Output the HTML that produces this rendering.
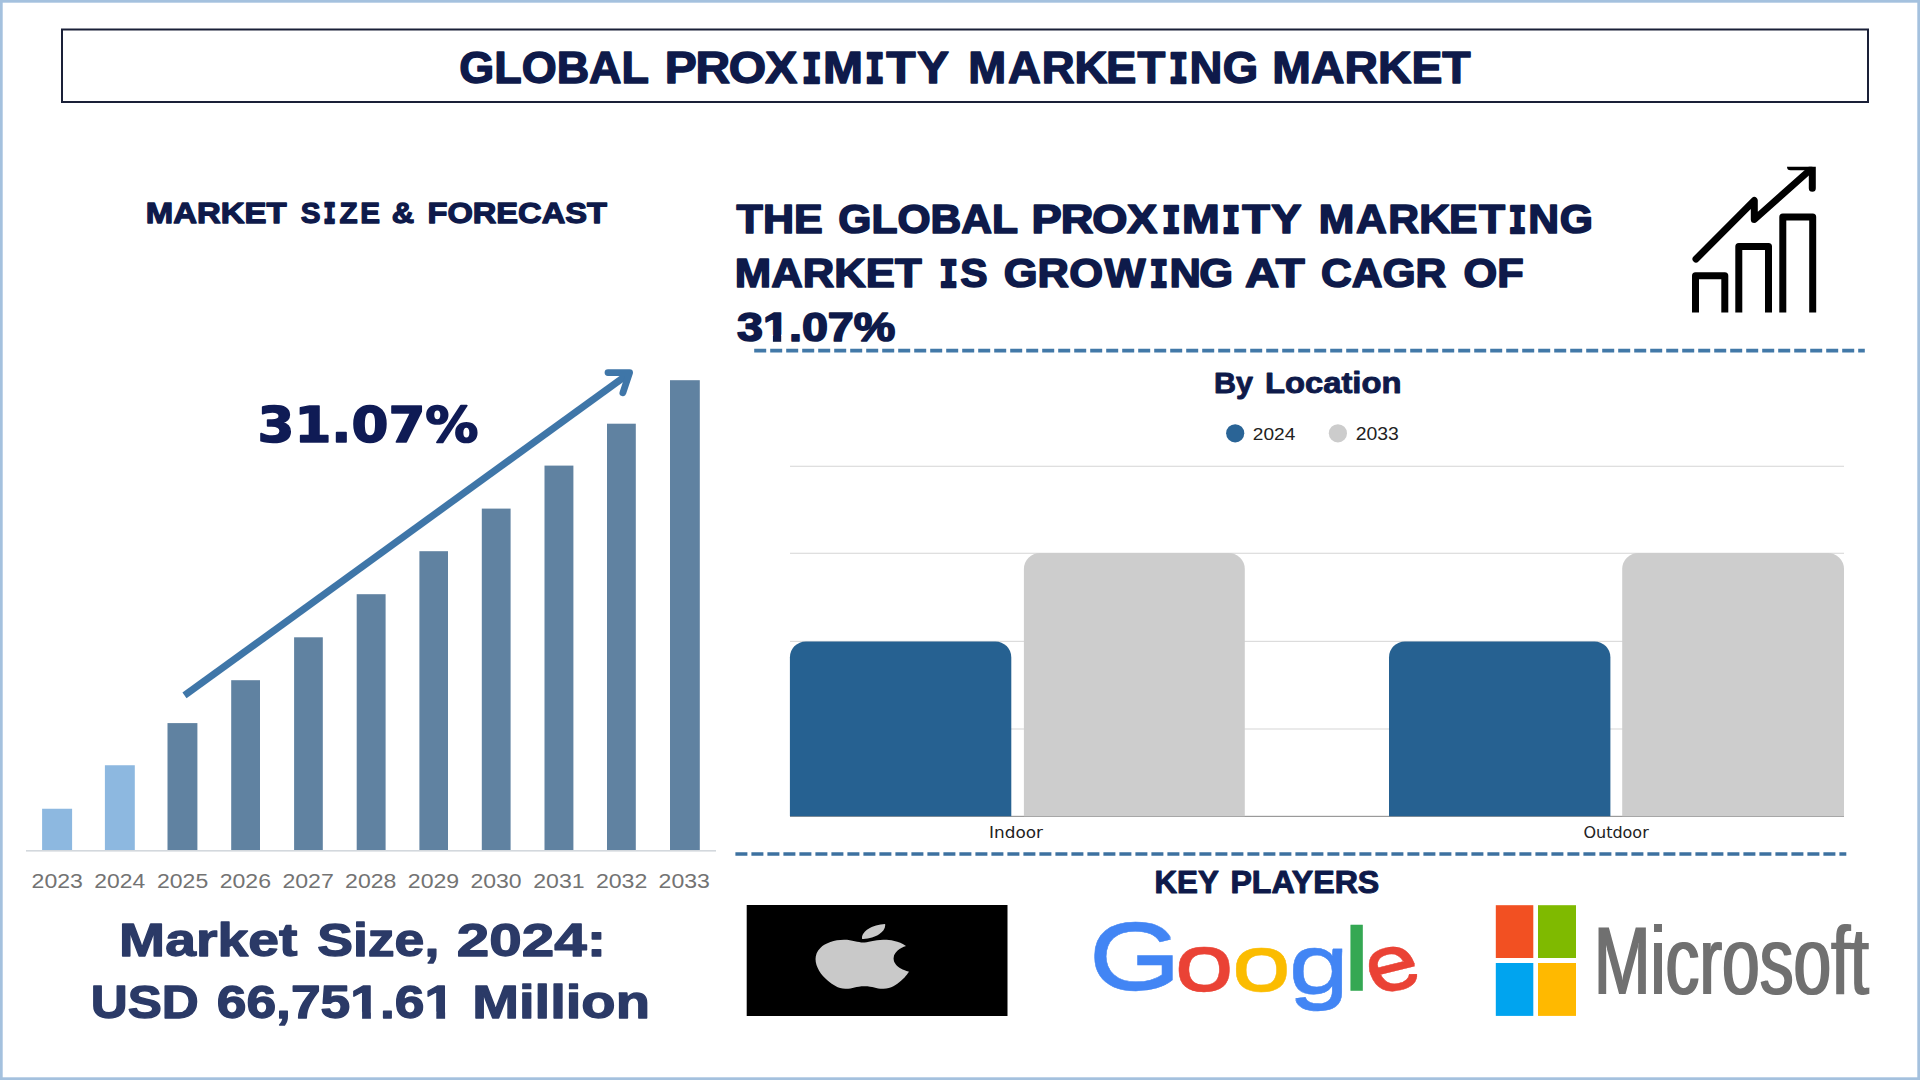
<!DOCTYPE html>
<html lang="en"><head><meta charset="utf-8"><title>Global Proximity Marketing Market</title>
<style>html,body{margin:0;padding:0;background:#fff;overflow:hidden}svg{display:block}text{white-space:pre}</style></head>
<body><svg width="1920" height="1080" viewBox="0 0 1920 1080">
<desc>GLOBAL PROXIMITY MARKETING MARKET. MARKET SIZE &amp; FORECAST. 31.07%. Market Size, 2024: USD 66,751.61 Million. THE GLOBAL PROXIMITY MARKETING MARKET IS GROWING AT CAGR OF 31.07%. By Location: 2024, 2033; Indoor, Outdoor. KEY PLAYERS: Google, Microsoft.</desc>
<defs><clipPath id="icl"><rect x="1600" y="166.85" width="300" height="200"/></clipPath><filter id="dx" x="-5%" y="-5%" width="110%" height="110%"><feMorphology operator="dilate" radius="1.3 0"/><feGaussianBlur stdDeviation="0.7"/></filter><filter id="dy" x="-5%" y="-10%" width="110%" height="120%"><feMorphology operator="dilate" radius="0 1"/><feGaussianBlur stdDeviation="0.6"/></filter><filter id="fb" x="-5%" y="-20%" width="110%" height="140%"><feGaussianBlur stdDeviation="0.7"/><feComponentTransfer><feFuncA type="linear" slope="3" intercept="-0.1"/></feComponentTransfer></filter><filter id="bl" x="-10%" y="-10%" width="120%" height="120%"><feGaussianBlur stdDeviation="0.7"/></filter></defs>
<rect x="0" y="0" width="1920" height="1080" fill="#ffffff"/>
<rect x="1.35" y="1.35" width="1917.3" height="1077.3" fill="none" stroke="#a4c1de" stroke-width="2.7"/>
<rect x="62" y="29.5" width="1806" height="72.5" fill="none" stroke="#1a2038" stroke-width="2"/>
<g font-family='"Liberation Sans", sans-serif' font-weight="bold" fill="#0e1a4a" stroke="#0e1a4a" stroke-width="1.4" stroke-linejoin="round"><text transform="translate(459.30,83.30) scale(1.0230,1)" font-size="43.93">GLOBAL </text><text transform="translate(0,83.30) scale(1.0934,1)" font-size="43.93" x="608.04 636.07 666.39 699.84 733.36 752.64 791.21 810.65 838.63 869.75">PROX<tspan font-family='"DejaVu Sans Mono", monospace' font-size="40.68" stroke-width="2.40" textLength="18.23" lengthAdjust="spacingAndGlyphs">I</tspan>M<tspan font-family='"DejaVu Sans Mono", monospace' font-size="40.68" stroke-width="2.40" textLength="17.85" lengthAdjust="spacingAndGlyphs">I</tspan>TY </text><text transform="translate(0,83.30) scale(1.0363,1)" font-size="43.93" x="934.45 972.59 1005.32 1036.84 1067.32 1097.73 1127.84 1147.83 1179.87 1213.58">MARKET<tspan font-family='"DejaVu Sans Mono", monospace' font-size="40.68" stroke-width="2.40" textLength="18.70" lengthAdjust="spacingAndGlyphs">I</tspan>NG </text><text transform="translate(1272.37,83.30) scale(1.0553,1)" font-size="43.93">MARKET</text></g>
<g font-family='"Liberation Sans", sans-serif' font-weight="bold" fill="#0e1a4a" stroke="#0e1a4a" stroke-width="1.3" stroke-linejoin="round"><text transform="translate(145.83,223.45) scale(1.1097,1)" font-size="29.67">MARKET </text><text transform="translate(0,223.45) scale(0.9983,1)" font-size="29.67" x="301.16 324.12 340.09 360.96 381.73">S<tspan font-family='"DejaVu Sans Mono", monospace' font-size="27.26" stroke-width="2.30" textLength="12.20" lengthAdjust="spacingAndGlyphs">I</tspan>ZE </text><text transform="translate(391.83,223.45) scale(1.0462,1)" font-size="29.67">&amp; </text><text transform="translate(427.45,223.45) scale(1.1001,1)" font-size="29.67">FORECAST</text></g>
<rect x="42.1" y="808.75" width="30.0" height="41.55" fill="#8db8e0"/>
<rect x="104.9" y="765.25" width="29.9" height="85.05" fill="#8db8e0"/>
<rect x="167.5" y="723.1" width="29.9" height="127.20" fill="#6082a1"/>
<rect x="231.2" y="680.2" width="28.8" height="170.10" fill="#6082a1"/>
<rect x="294.1" y="637.3" width="28.7" height="213.00" fill="#6082a1"/>
<rect x="356.7" y="594.2" width="28.9" height="256.10" fill="#6082a1"/>
<rect x="419.4" y="551.2" width="28.6" height="299.10" fill="#6082a1"/>
<rect x="481.8" y="508.6" width="28.8" height="341.70" fill="#6082a1"/>
<rect x="544.5" y="465.6" width="28.9" height="384.70" fill="#6082a1"/>
<rect x="607" y="423.7" width="28.8" height="426.60" fill="#6082a1"/>
<rect x="670" y="380.2" width="29.8" height="470.10" fill="#6082a1"/>
<rect x="26" y="850" width="690" height="1.6" fill="#d3d8dd"/>
<text transform="translate(31.60,888.40) scale(1.1166,1)" font-family='"Liberation Sans", sans-serif' font-weight="normal" font-size="20.65" fill="#737373" >2023</text>
<text transform="translate(94.31,888.40) scale(1.1088,1)" font-family='"Liberation Sans", sans-serif' font-weight="normal" font-size="20.65" fill="#737373" >2024</text>
<text transform="translate(157.00,888.40) scale(1.1153,1)" font-family='"Liberation Sans", sans-serif' font-weight="normal" font-size="20.65" fill="#737373" >2025</text>
<text transform="translate(219.70,888.40) scale(1.1166,1)" font-family='"Liberation Sans", sans-serif' font-weight="normal" font-size="20.65" fill="#737373" >2026</text>
<text transform="translate(282.39,888.40) scale(1.1205,1)" font-family='"Liberation Sans", sans-serif' font-weight="normal" font-size="20.65" fill="#737373" >2027</text>
<text transform="translate(345.10,888.40) scale(1.1166,1)" font-family='"Liberation Sans", sans-serif' font-weight="normal" font-size="20.65" fill="#737373" >2028</text>
<text transform="translate(407.80,888.40) scale(1.1179,1)" font-family='"Liberation Sans", sans-serif' font-weight="normal" font-size="20.65" fill="#737373" >2029</text>
<text transform="translate(470.50,888.40) scale(1.1139,1)" font-family='"Liberation Sans", sans-serif' font-weight="normal" font-size="20.65" fill="#737373" >2030</text>
<text transform="translate(533.19,888.40) scale(1.1192,1)" font-family='"Liberation Sans", sans-serif' font-weight="normal" font-size="20.65" fill="#737373" >2031</text>
<text transform="translate(595.89,888.40) scale(1.1205,1)" font-family='"Liberation Sans", sans-serif' font-weight="normal" font-size="20.65" fill="#737373" >2032</text>
<text transform="translate(658.60,888.40) scale(1.1166,1)" font-family='"Liberation Sans", sans-serif' font-weight="normal" font-size="20.65" fill="#737373" >2033</text>
<g stroke="#3f76a8" fill="none"><line x1="184.5" y1="695.4" x2="628.5" y2="373.8" stroke-width="7"/><polyline points="608,372.6 629.6,372.6 622.9,392.8" stroke-width="6.8" stroke-linecap="round" stroke-linejoin="round"/></g>
<g font-family='"DejaVu Sans", sans-serif' font-weight="bold" fill="#0f1b55" stroke="#0f1b55" stroke-width="1.6" stroke-linejoin="round"><text transform="translate(257.52,442.20) scale(1.0765,1)" font-size="49.29">31.07%</text></g>
<g font-family='"Liberation Sans", sans-serif' font-weight="bold" fill="#2b3a67" stroke="#2b3a67" stroke-width="1.3" stroke-linejoin="round"><text transform="translate(119.12,956.05) scale(1.1729,1)" font-size="47.13">Market </text><text transform="translate(317.14,956.05) scale(1.1374,1)" font-size="47.13">Size, </text><text transform="translate(456.70,956.05) scale(1.2399,1)" font-size="47.13">2024:</text></g>
<g font-family='"Liberation Sans", sans-serif' font-weight="bold" fill="#2b3a67" stroke="#2b3a67" stroke-width="1.3" stroke-linejoin="round"><text transform="translate(90.68,1018.45) scale(1.0907,1)" font-size="46.98">USD </text><text transform="translate(216.75,1018.45) scale(1.1365,1)" font-size="46.98">66,751.61 </text><text transform="translate(472.16,1018.45) scale(1.1955,1)" font-size="46.98">Million</text></g>
<g fill="#ffffff"><g transform="translate(216.75,1018.45) scale(1.1365,1)"><rect x="118.88" y="-6.74" width="9.01" height="9.19"/><rect x="135.63" y="-6.74" width="8.61" height="9.19"/></g><g transform="translate(216.75,1018.45) scale(1.1365,1)"><rect x="184.19" y="-6.74" width="9.01" height="9.19"/><rect x="200.94" y="-6.74" width="8.61" height="9.19"/></g></g>
<g font-family='"Liberation Sans", sans-serif' font-weight="bold" fill="#0e1a4a" stroke="#0e1a4a" stroke-width="1.6" stroke-linejoin="round"><text transform="translate(736.62,232.95) scale(1.0698,1)" font-size="40.22">THE </text><text transform="translate(838.35,232.95) scale(1.0584,1)" font-size="40.22">GLOBAL </text><text transform="translate(0,232.95) scale(1.1259,1)" font-size="40.22" x="916.17 942.08 970.09 1000.98 1032.02 1049.79 1085.47 1103.35 1129.21 1157.93">PROX<tspan font-family='"DejaVu Sans Mono", monospace' font-size="37.19" stroke-width="2.60" textLength="16.45" lengthAdjust="spacingAndGlyphs">I</tspan>M<tspan font-family='"DejaVu Sans Mono", monospace' font-size="37.19" stroke-width="2.60" textLength="16.10" lengthAdjust="spacingAndGlyphs">I</tspan>TY </text><text transform="translate(0,232.95) scale(1.0615,1)" font-size="40.22" x="1242.26 1277.51 1307.81 1336.97 1365.15 1393.27 1421.21 1439.64 1469.30">MARKET<tspan font-family='"DejaVu Sans Mono", monospace' font-size="37.19" stroke-width="2.60" textLength="16.87" lengthAdjust="spacingAndGlyphs">I</tspan>NG</text></g>
<g font-family='"Liberation Sans", sans-serif' font-weight="bold" fill="#0e1a4a" stroke="#0e1a4a" stroke-width="1.6" stroke-linejoin="round"><text transform="translate(734.85,286.70) scale(1.0760,1)" font-size="40.58">MARKET </text><text transform="translate(0,286.70) scale(1.0104,1)" font-size="40.58" x="929.56 950.38 978.61"><tspan font-family='"DejaVu Sans Mono", monospace' font-size="37.53" stroke-width="2.60" textLength="18.49" lengthAdjust="spacingAndGlyphs">I</tspan>S </text><text transform="translate(0,286.70) scale(1.0721,1)" font-size="40.58" x="936.24 967.65 997.44 1030.32 1072.29 1090.94 1118.54 1147.61">GROW<tspan font-family='"DejaVu Sans Mono", monospace' font-size="37.53" stroke-width="2.60" textLength="17.43" lengthAdjust="spacingAndGlyphs">I</tspan>NG </text><text transform="translate(1245.12,286.70) scale(1.1671,1)" font-size="40.58">AT </text><text transform="translate(1321.10,286.70) scale(1.0485,1)" font-size="40.58">CAGR </text><text transform="translate(1463.57,286.70) scale(1.0683,1)" font-size="40.58">OF</text></g>
<g font-family='"Liberation Sans", sans-serif' font-weight="bold" fill="#0e1a4a" stroke="#0e1a4a" stroke-width="1.6" stroke-linejoin="round"><text transform="translate(736.95,340.80) scale(1.1726,1)" font-size="39.85">31.07%</text></g>
<g fill="#ffffff"><g transform="translate(736.95,340.80) scale(1.1726,1)"><rect x="22.88" y="-6.17" width="7.79" height="8.77"/><rect x="37.74" y="-6.17" width="7.49" height="8.77"/></g></g>
<g stroke="#000" stroke-width="7" fill="none" stroke-linejoin="round" clip-path="url(#icl)">
<polyline points="1695.5,312.5 1695.5,275.8 1724.8,275.8 1724.8,312.5"/>
<polyline points="1738.8,312.5 1738.8,246.4 1768.5,246.4 1768.5,312.5"/>
<polyline points="1782.8,312.5 1782.8,217 1812.7,217 1812.7,312.5"/>
<polyline points="1696,259 1754.3,200.5 1754.3,219.5 1810.5,169.5" stroke-linecap="round"/>
<polyline points="1790.5,166.8 1812.3,166.8 1812.3,188.2" stroke-linecap="round" stroke-linejoin="miter"/>
</g>
<line x1="754.2" y1="350.6" x2="1864.8" y2="350.6" stroke="#4279a8" stroke-width="3.7" stroke-dasharray="12 4"/>
<line x1="735.4" y1="854" x2="1846.3" y2="854" stroke="#3d71a0" stroke-width="3.7" stroke-dasharray="12 4"/>
<g font-family='"Liberation Sans", sans-serif' font-weight="bold" fill="#0e1a4a" stroke="#0e1a4a" stroke-width="0.9" stroke-linejoin="round"><text transform="translate(1213.89,393.15) scale(1.0417,1)" font-size="29.24">By </text><text transform="translate(1264.94,393.15) scale(1.1216,1)" font-size="29.24">Location</text></g>
<circle cx="1235.2" cy="433.3" r="9.1" fill="#2a6496"/><circle cx="1337.9" cy="433.3" r="9.1" fill="#cccccc"/>
<text transform="translate(1252.84,440.00) scale(1.0973,1)" font-family='"Liberation Sans", sans-serif' font-weight="normal" font-size="17.42" fill="#222" >2024</text>
<text transform="translate(1355.73,440.00) scale(1.1131,1)" font-family='"Liberation Sans", sans-serif' font-weight="normal" font-size="17.42" fill="#222" >2033</text>
<rect x="790" y="465.7" width="1054" height="1.2" fill="#dcdcdc"/>
<rect x="790" y="552.6999999999999" width="1054" height="1.2" fill="#dcdcdc"/>
<rect x="790" y="640.8" width="1054" height="1.2" fill="#dcdcdc"/>
<rect x="790" y="728.4" width="1054" height="1.2" fill="#dcdcdc"/>
<rect x="790" y="815.8" width="1054" height="1.2" fill="#9a9a9a"/>
<path d="M789.9,816.3 V657.4 A16,16 0 0 1 805.9,641.4 H995.3 A16,16 0 0 1 1011.3,657.4 V816.3 Z" fill="#266191"/>
<path d="M1023.9,816.3 V569.1 A16,16 0 0 1 1039.9,553.1 H1228.8 A16,16 0 0 1 1244.8,569.1 V816.3 Z" fill="#cdcdcd"/>
<path d="M1389,816.3 V657.4 A16,16 0 0 1 1405,641.4 H1594.4 A16,16 0 0 1 1610.4,657.4 V816.3 Z" fill="#266191"/>
<path d="M1622.2,816.3 V569.1 A16,16 0 0 1 1638.2,553.1 H1828 A16,16 0 0 1 1844,569.1 V816.3 Z" fill="#cdcdcd"/>
<text transform="translate(989.05,838.00) scale(1.0449,1)" font-family='"DejaVu Sans", sans-serif' font-weight="normal" font-size="16.16" fill="#222" >Indoor</text>
<text transform="translate(1583.42,838.00) scale(1.0071,1)" font-family='"DejaVu Sans", sans-serif' font-weight="normal" font-size="15.89" fill="#222" >Outdoor</text>
<g font-family='"Liberation Sans", sans-serif' font-weight="bold" fill="#0e1a4a" stroke="#0e1a4a" stroke-width="1.0" stroke-linejoin="round"><text transform="translate(1154.39,893.35) scale(1.0282,1)" font-size="30.47">KEY </text><text transform="translate(1230.43,893.35) scale(1.0552,1)" font-size="30.47">PLAYERS</text></g>
<rect x="746.7" y="905" width="260.8" height="111" fill="#000"/>
<g filter="url(#bl)"><g transform="translate(804.9,924) scale(4.78,2.7)" fill="#c9c9c9"><path d="M12.152 6.896c-.948 0-2.415-1.078-3.96-1.04-2.04.027-3.91 1.183-4.961 3.014-2.117 3.675-.546 9.103 1.519 12.09 1.013 1.454 2.208 3.09 3.792 3.039 1.52-.065 2.09-.987 3.935-.987 1.831 0 2.35.987 3.96.948 1.637-.026 2.676-1.48 3.676-2.948 1.156-1.688 1.636-3.325 1.662-3.415-.039-.013-3.182-1.221-3.22-4.857-.026-3.04 2.48-4.494 2.597-4.559-1.429-2.09-3.623-2.324-4.39-2.376-2-.156-3.675 1.09-4.61 1.09zM15.53 3.83c.843-1.012 1.4-2.427 1.245-3.83-1.207.052-2.662.805-3.532 1.818-.78.896-1.454 2.338-1.273 3.714 1.338.104 2.715-.688 3.559-1.701"/></g></g>
<g font-family='"Liberation Sans", sans-serif' font-size="100" filter="url(#dy)"><text transform="translate(1088.71,989.35) scale(1.1877,0.9456)" fill="#4285f4" stroke="#4285f4" stroke-width="0.5">G</text><text transform="translate(1174.42,989.53) scale(1.0667,0.7744)" fill="#ea4335" stroke="#ea4335" stroke-width="0.5">o</text><text transform="translate(1231.63,989.54) scale(1.0646,0.7635)" fill="#fbbc05" stroke="#fbbc05" stroke-width="0.5">o</text><text transform="translate(1288.84,992.50) scale(1.0844,0.8242)" fill="#4285f4" stroke="#4285f4" stroke-width="0.5">g</text><text transform="translate(1341.88,988.80) scale(1.3143,0.8621)" fill="#34a853" stroke="#34a853" stroke-width="0.5">l</text><text transform="translate(1365.97,989.53) scale(0.9596,0.7689) rotate(-17 27.7 -26.4)" fill="#ea4335" stroke="#ea4335" stroke-width="0.5">e</text></g>
<rect x="1495.8" y="905.2" width="37.5" height="52.8" fill="#f25022"/><rect x="1538" y="905.2" width="38" height="52.8" fill="#7fba00"/><rect x="1495.8" y="963" width="37.5" height="52.9" fill="#00a4ef"/><rect x="1538" y="963" width="38" height="52.9" fill="#ffb900"/>
<g filter="url(#dx)">
<text transform="translate(1594.11,994.30) scale(0.6972,1)" font-family='"Liberation Sans", sans-serif' font-weight="normal" font-size="97.16" fill="#6f6f6f" >Microsoft</text>
</g>
</svg></body></html>
